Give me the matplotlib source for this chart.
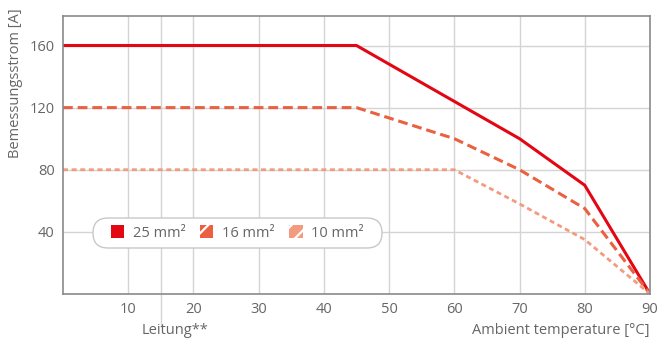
import matplotlib.pyplot as plt
from matplotlib.patches import Rectangle, FancyBboxPatch

plt.rcParams['font.family'] = ['Open Sans', 'DejaVu Sans']
plt.rcParams['hatch.linewidth'] = 1.6

# Daten
temp_25 = [0, 45, 60, 70, 80, 90]
strom_25 = [160, 160, 124, 100, 70, 0]
temp_16 = [0, 45, 60, 70, 80, 90]
strom_16 = [120, 120, 100, 80, 55, 0]
temp_10 = [0, 60, 70, 80, 90]
strom_10 = [80, 80, 58, 35, 0]
x_ticks = [10, 20, 30, 40, 50, 60, 70, 80, 90]
y_ticks = [40, 80, 120, 160]
labels = ['25 mm²', '16 mm²', '10 mm²']

c25, c16, c10 = '#e30613', '#ea6040', '#f29b7e'
txt = '#666666'

fig = plt.figure(figsize=(6.59, 3.45), dpi=100)
ax = fig.add_axes([0.0956, 0.148, 0.8907, 0.8056])

ax.plot(temp_25, strom_25, color=c25, lw=2.2, solid_joinstyle='miter')
ax.plot(temp_16, strom_16, color=c16, lw=2.2, dashes=(3.2, 1.6))
ax.plot(temp_10, strom_10, color=c10, lw=2.0, dashes=(1.8, 1.3))

ax.set_xlim(0, 90)
ax.set_ylim(0, 179)
ax.set_xticks(x_ticks)
ax.set_yticks(y_ticks)
ax.set_xticks([15], minor=True)  # Markierung "Leitung**"
ax.grid(True, which='both', color='#d4d4d4', lw=1)
ax.set_axisbelow(True)
ax.tick_params(length=0, labelsize=10.5, labelcolor=txt, pad=6)
ax.tick_params(axis='x', which='minor', length=24, color='#d4d4d4', width=1)
for s in ax.spines.values():
    s.set_color('#8a8a8a')
    s.set_linewidth(1.2)

# abgerundeter Legendenrahmen (in Zoll)
box = FancyBboxPatch((1.08, 1.12), 2.59, 0.0,
                     boxstyle='round,pad=0.15,rounding_size=0.15',
                     transform=fig.dpi_scale_trans, facecolor='white',
                     edgecolor='#c8c8c8', lw=1, zorder=3)
fig.patches.append(box)

handles = [
    Rectangle((0, 0), 1, 1, facecolor=c25, edgecolor=c25, lw=0),
    Rectangle((0, 0), 1, 1, facecolor=c16, edgecolor='white', lw=0, hatch='/'),
    Rectangle((0, 0), 1, 1, facecolor=c10, edgecolor='white', lw=0, hatch='//'),
]
leg = fig.legend(handles, labels, ncol=3, loc='center',
                 bbox_to_anchor=(2.375 / 6.59, 1.12 / 3.45),
                 frameon=False, fontsize=10.5, labelcolor=txt, handlelength=0.9,
                 handleheight=0.9, handletextpad=0.6, columnspacing=1.0)
leg.set_zorder(5)

fig.text(0.023, 0.76, 'Bemessungsstrom [A]', rotation=90, ha='center', va='center',
         fontsize=10.5, color=txt)
fig.text(0.265, 0.043, 'Leitung**', ha='center', va='center', fontsize=10.5, color=txt)
fig.text(0.986, 0.043, 'Ambient temperature [°C]', ha='right', va='center',
         fontsize=10.5, color=txt)

fig.savefig('out.png', dpi=100)
